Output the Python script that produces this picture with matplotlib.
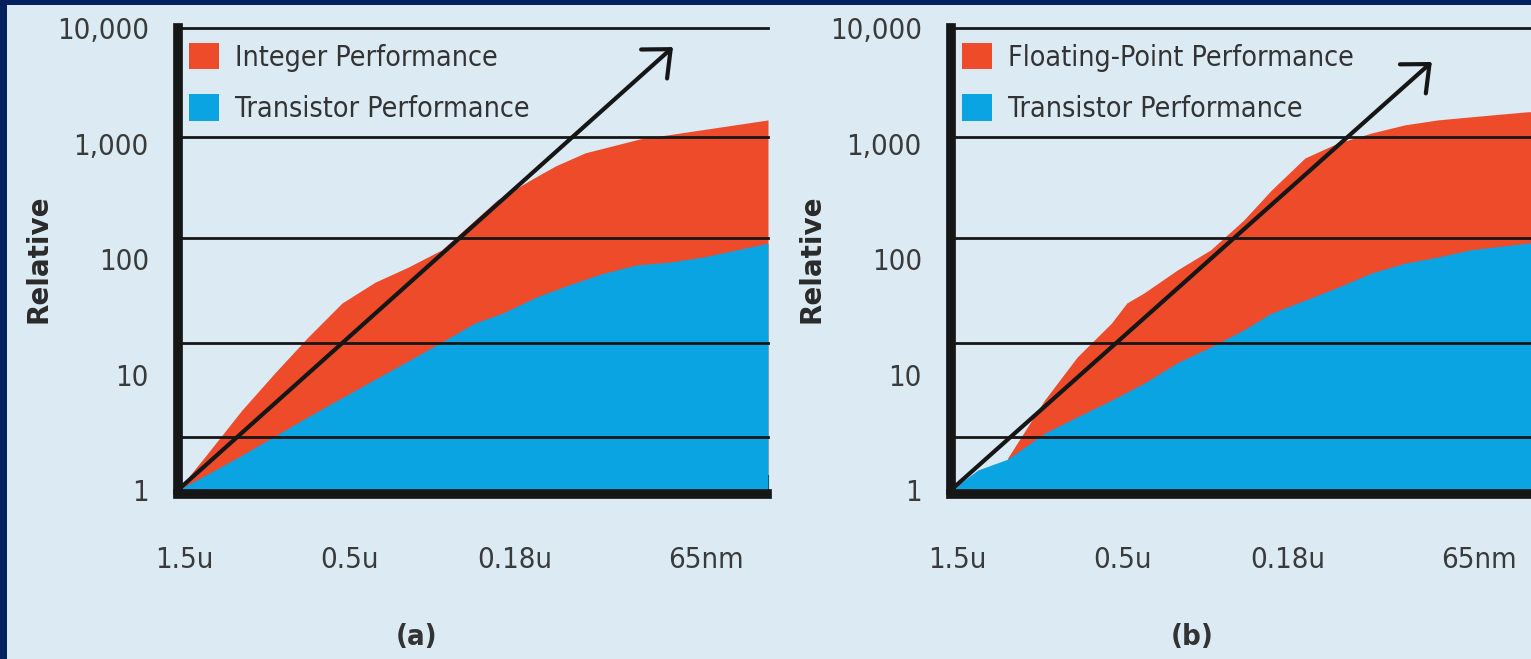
import matplotlib.pyplot as plt
from matplotlib import font_manager
from matplotlib.patches import Patch, Rectangle
from matplotlib.ticker import NullLocator

# process nodes, positions along the 10 tick intervals
node_labels = ["1.5u", "0.5u", "0.18u", "65nm"]
node_pos = [0.1, 2.9, 5.7, 8.95]

y_ticks = [1, 10, 100, 1000, 10000]
y_labels = ["1", "10", "100", "1,000", "10,000"]
grid_levels = [10000, 1140, 152, 18.7, 2.85]

# (a) integer vs transistor
int_x = [0, 0.51, 1.08, 1.64, 2.2, 2.78, 3.34, 3.9, 4.47, 5.03, 5.41, 5.97, 6.4, 6.9, 7.83, 8.5, 10]
int_perf = [1, 2.1, 4.9, 10.3, 21, 41.6, 63, 85, 120, 217, 324, 482, 640, 830, 1096, 1230, 1600]
tra_x = [0, 0.51, 1.08, 1.64, 2.2, 2.78, 3.34, 3.9, 4.47, 5.03, 5.5, 6.08, 6.64, 7.2, 7.78, 8.34, 8.9, 9.47, 10]
tra_perf = [1, 1.38, 2.0, 2.93, 4.3, 6.3, 9.1, 13.1, 19.1, 27.9, 34, 47, 60, 75, 89, 94, 104, 120, 137]
tip_a = (8.39, 6840)

# (b) floating point vs transistor
fp_x = [0.96, 1.585, 2.14, 2.72, 2.98, 3.27, 3.83, 4.4, 4.96, 5.43, 6.0, 6.56, 7.12, 7.69, 8.25, 8.8, 9.76, 10]
fp_perf = [1.89, 6.0, 14.2, 27.9, 41.6, 50.8, 80, 120, 217, 395, 750, 1010, 1230, 1450, 1600, 1700, 1880, 1900]
trb_x = [0, 0.455, 0.96, 1.585, 2.14, 2.72, 3.27, 3.83, 4.4, 4.96, 5.43, 6.0, 6.56, 7.12, 7.69, 8.25, 8.8, 9.76, 10]
trb_perf = [1, 1.49, 1.85, 3.1, 4.3, 6.0, 8.4, 12.6, 17.3, 24.3, 34, 44, 57, 75.5, 92, 104, 120, 137, 140]
tip_b = (8.15, 5080)

NAVY = "#04205f"
BG = "#dceaf4"
RED = "#ee4b2b"
BLUE = "#0aa4e2"
INK = "#161616"
TXT = "#3a3a3a"

# a narrow face if one is installed
installed = {f.name for f in font_manager.fontManager.ttflist}
narrow_stretch = {f.name for f in font_manager.fontManager.ttflist
                  if str(f.stretch) in ("condensed", "semi-condensed", "75", "87.5")}
if "Liberation Sans Narrow" in installed:
    NARROW = dict(family="Liberation Sans Narrow")
elif "DejaVu Sans" in narrow_stretch:
    NARROW = dict(family="DejaVu Sans", stretch="condensed")
else:
    NARROW = dict(family="Roboto")

W, H = 1531, 659


def draw_panel(ax, px, py, tx, ty, tip, name):
    ax.set_facecolor("none")
    ax.set_yscale("log")
    ax.set_xlim(0, 10)
    ax.set_ylim(1, 10000)
    ax.fill_between(px, 1, py, color=RED, lw=0, zorder=1)
    ax.fill_between(tx, 1, ty, color=BLUE, lw=0, zorder=2)
    for g in grid_levels:
        ax.axhline(g, color=INK, lw=2, zorder=3, clip_on=False)
    ax.annotate("", xy=tip, xytext=(0, 1),
                arrowprops=dict(arrowstyle="->,head_length=16,head_width=14",
                                mutation_scale=1, lw=3, color=INK,
                                shrinkA=0, shrinkB=0),
                zorder=4)

    for s in ["top", "right"]:
        ax.spines[s].set_visible(False)
    for s in ["left", "bottom"]:
        ax.spines[s].set_linewidth(7)
        ax.spines[s].set_color(INK)
        ax.spines[s].set_capstyle("projecting")
        ax.spines[s].set_zorder(5)
    ax.spines["bottom"].set_position(("outward", 3))
    ax.spines["bottom"].set_bounds(0, 9.98)

    ax.set_xticks(node_pos)
    ax.set_xticklabels(node_labels, **NARROW)
    ax.set_xticks(range(1, 11), minor=True)
    ax.tick_params(axis="x", which="major", length=0, pad=37,
                   labelsize=21, labelcolor=TXT)
    ax.tick_params(axis="x", which="minor", direction="in", length=14,
                   width=1.5, color=INK)

    ax.set_yticks(y_ticks)
    ax.set_yticklabels(y_labels, **NARROW)
    ax.yaxis.set_minor_locator(NullLocator())
    ax.tick_params(axis="y", which="major", length=0, pad=21,
                   labelsize=21, labelcolor=TXT)

    ax.set_ylabel("Relative", family="DejaVu Sans", fontweight="bold",
                  fontsize=20, color="#2a2a2a")
    ax.yaxis.set_label_coords(-0.213, 0.5)

    handles = [Patch(facecolor=RED, label=name),
               Patch(facecolor=BLUE, label="Transistor Performance")]
    leg = ax.legend(handles=handles, loc="upper left",
                    bbox_to_anchor=(0.0186, 0.968), frameon=False,
                    prop=dict(size=20.5, **NARROW),
                    handlelength=1.05, handleheight=1.05, handletextpad=0.55,
                    labelspacing=0.8, borderpad=0, borderaxespad=0)
    for t in leg.get_texts():
        t.set_color("#333333")


fig = plt.figure(figsize=(W / 100, H / 100), dpi=100)
fig.patch.set_facecolor(NAVY)
fig.add_artist(Rectangle((7 / W, 0), 1, 1 - 5 / H, transform=fig.transFigure,
                         facecolor=BG, edgecolor="none", zorder=-1))

bottom = 1 - 490 / H
height = 462 / H
ax_a = fig.add_axes([178 / W, bottom, 590 / W, height])
ax_b = fig.add_axes([951 / W, bottom, 590 / W, height])

draw_panel(ax_a, int_x, int_perf, tra_x, tra_perf, tip_a, "Integer Performance")
draw_panel(ax_b, fp_x, fp_perf, trb_x, trb_perf, tip_b, "Floating-Point Performance")

fig.text(417 / W, 1 - 637 / H, "(a)", fontweight="bold", fontsize=21,
         color="#333333", ha="center", va="center", **NARROW)
fig.text(1192 / W, 1 - 637 / H, "(b)", fontweight="bold", fontsize=21,
         color="#333333", ha="center", va="center", **NARROW)

fig.savefig("out.png", dpi=100, facecolor=fig.get_facecolor())
